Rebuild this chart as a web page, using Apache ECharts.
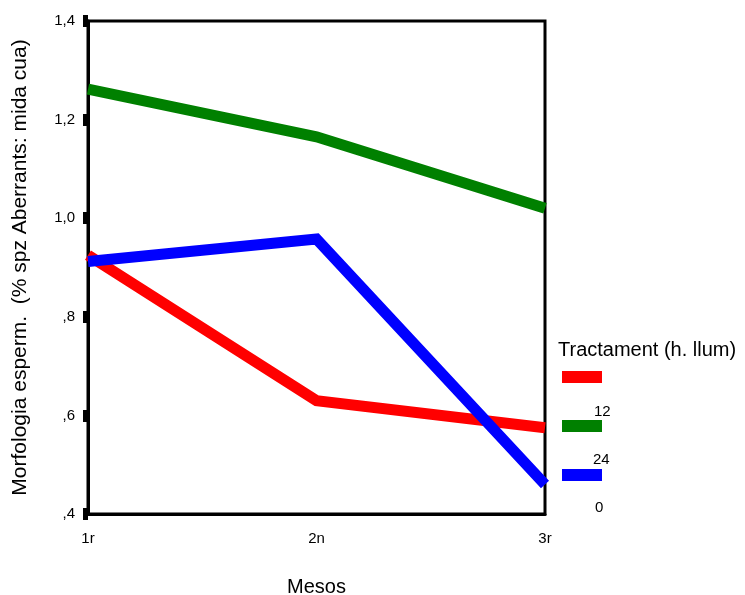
<!DOCTYPE html>
<html>
<head>
<meta charset="utf-8">
<script src="https://cdn.jsdelivr.net/npm/echarts@6/dist/echarts.min.js"></script>
<style>
html,body{margin:0;padding:0;background:#fff;}
#chart{width:745px;height:595px;}
</style>
</head>
<body>
<div id="chart"></div>
<script>
// Months on the x axis
const months = ['1r', '2n', '3r'];
// Treatment groups (hours of light)
const groups = ['0', '12', '24'];
const colors = ['#ff0000', '#008000', '#0000ff'];
// Sperm morphology (% aberrant: tail size) per group
const values0 = [0.925, 0.630, 0.575];
const values12 = [1.262, 1.165, 1.020];
const values24 = [0.912, 0.958, 0.460];
// Y tick labels
const yTicks = {'0.4': ',4', '0.6': ',6', '0.8': ',8', '1': '1,0', '1.2': '1,2', '1.4': '1,4'};

const seriesValues = [values0, values12, values24];
const font = 'Liberation Sans, Arial, sans-serif';

const chart = echarts.init(document.getElementById('chart'));
chart.setOption({
  animation: false,
  grid: {left: 88, right: 200, top: 21, bottom: 81, show: true, borderColor: '#000', borderWidth: 3,
         outerBoundsMode: 'none', containLabel: false},
  legend: {
    orient: 'vertical', left: 562, top: 371, padding: 0,
    itemWidth: 40, itemHeight: 12, itemGap: 37,
    icon: 'rect',
    formatter: () => '',
    selectedMode: false,
    data: groups
  },
  xAxis: {
    type: 'category', data: months, boundaryGap: false,
    name: 'Mesos', nameLocation: 'middle', nameGap: 63,
    nameTextStyle: {fontFamily: font, fontSize: 20, color: '#000'},
    axisLine: {lineStyle: {color: '#000', width: 3}},
    axisTick: {show: false},
    axisLabel: {fontFamily: font, fontSize: 15, color: '#000', margin: 17}
  },
  yAxis: {
    type: 'value', min: 0.4, max: 1.4, interval: 0.2,
    name: 'Morfologia esperm.  (% spz Aberrants: mida cua)', nameLocation: 'middle', nameGap: 57,
    nameTextStyle: {fontFamily: font, fontSize: 21, color: '#000'},
    splitLine: {show: false},
    axisLine: {show: true, lineStyle: {color: '#000', width: 3}},
    axisTick: {show: true, length: 5, lineStyle: {color: '#000', width: 12}},
    axisLabel: {fontFamily: font, fontSize: 15, color: '#000', margin: 13,
      formatter: v => yTicks[String(+v.toFixed(2))] || ''}
  },
  series: groups.map((g, i) => ({
    name: g, type: 'line', data: seriesValues[i],
    symbol: 'none', color: colors[i],
    lineStyle: {width: 11, color: colors[i], join: 'miter'}
  })),
  graphic: [
    {type: 'text', left: 558, top: 340, style: {text: 'Tractament (h. llum)', font: '20px ' + font, fill: '#000'}},
    {type: 'text', left: 594, top: 404, style: {text: '12', font: '15px ' + font, fill: '#000'}},
    {type: 'text', left: 593, top: 452, style: {text: '24', font: '15px ' + font, fill: '#000'}},
    {type: 'text', left: 595, top: 500, style: {text: '0', font: '15px ' + font, fill: '#000'}}
  ]
});
</script>
</body>
</html>
